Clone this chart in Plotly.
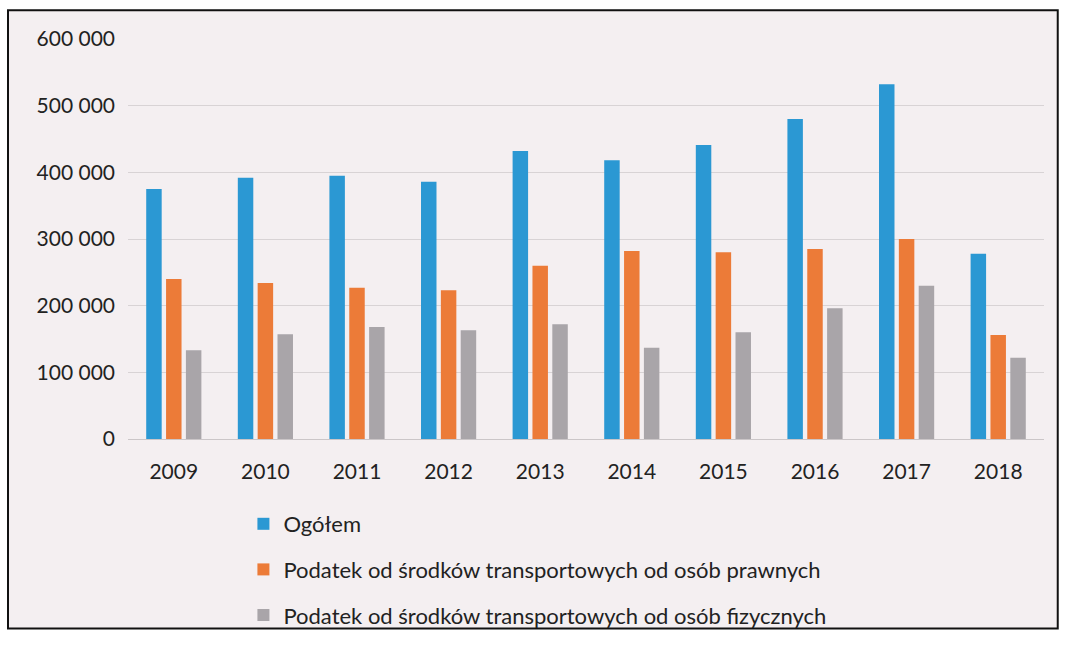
import plotly.graph_objects as go

# Years and the three series
years = ["2009", "2010", "2011", "2012", "2013", "2014", "2015", "2016", "2017", "2018"]
ogolem = [375000, 392000, 395000, 386000, 432000, 418000, 441000, 480000, 532000, 278000]
prawne = [240000, 234000, 227000, 223000, 260000, 282000, 280000, 285000, 300000, 156000]
fizyczne = [133000, 157000, 168000, 163000, 172000, 137000, 160000, 196000, 230000, 122000]

series_names = [
    "Ogółem",
    "Podatek od środków transportowych od osób prawnych",
    "Podatek od środków transportowych od osób fizycznych",
]
series_colors = ["#2b98d3", "#ec7b38", "#a9a5a9"]

FONT = "Lato"
TEXT = "#222222"

fig = go.Figure()
for name, vals, color in zip(series_names, [ogolem, prawne, fizyczne], series_colors):
    fig.add_trace(
        go.Bar(
            x=years,
            y=vals,
            name=name,
            legendgroup=name,
            marker=dict(color=color, line=dict(width=0)),
        )
    )

fig.update_layout(
    width=1065,
    height=648,
    margin=dict(l=128, r=21, t=39, b=204),
    paper_bgcolor="white",
    plot_bgcolor="rgba(0,0,0,0)",
    separators=", ",
    barmode="group",
    bargap=0.35,
    bargroupgap=0.22,
    font=dict(family=FONT, size=20, color=TEXT),
    showlegend=True,
    legend=dict(
        orientation="v",
        x=0.126,
        xanchor="left",
        y=-0.16,
        yanchor="top",
        traceorder="grouped",
        tracegroupgap=14,
        font=dict(family=FONT, size=22, color=TEXT),
        bgcolor="rgba(0,0,0,0)",
    ),
    shapes=[
        dict(
            type="rect",
            xref="paper",
            yref="paper",
            x0=-0.131,
            x1=1.015,
            y0=-0.474,
            y1=1.072,
            line=dict(color="#111111", width=2),
            fillcolor="#f4eff1",
            layer="below",
        )
    ],
)

fig.update_xaxes(
    showgrid=False,
    showline=False,
    ticks="",
    ticklabelstandoff=18,
    tickfont=dict(family=FONT, size=21, color=TEXT),
)
fig.update_yaxes(
    range=[0, 600000],
    dtick=100000,
    tickformat=",d",
    showgrid=True,
    gridcolor="#d8d3d5",
    gridwidth=1,
    zeroline=True,
    zerolinecolor="#cbc6c8",
    zerolinewidth=1,
    ticks="",
    ticklabelstandoff=12,
    tickfont=dict(family=FONT, size=21, color=TEXT),
)

# the page wraps the plot in an 8px body margin; drop it so the figure fills the window
fig.write_html(
    "out.html",
    config={"displayModeBar": False},
    post_script="document.body.style.margin='0';",
)
